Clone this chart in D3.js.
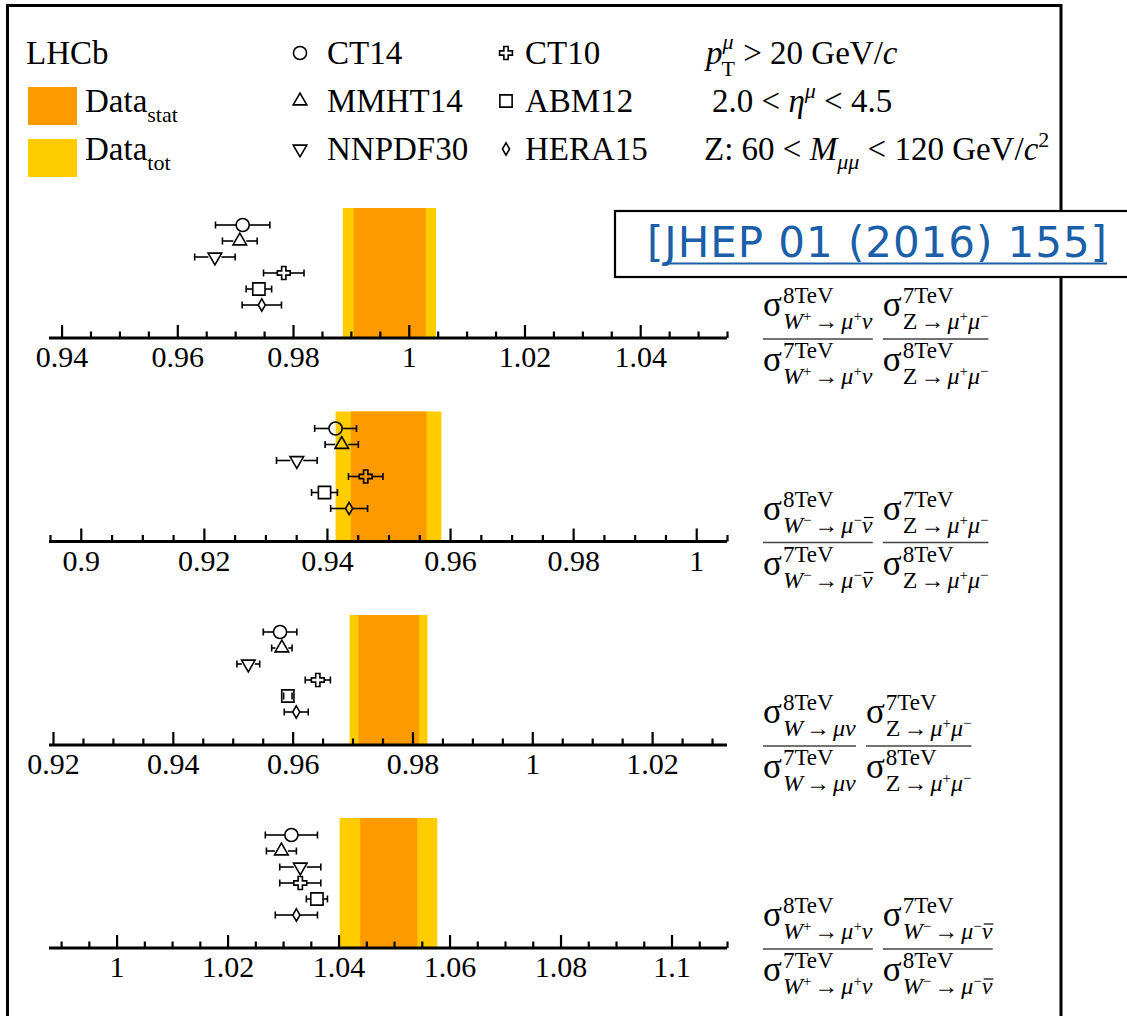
<!DOCTYPE html>
<html>
<head>
<meta charset="utf-8">
<script src="https://cdn.jsdelivr.net/npm/d3@7"></script>
<style>
body { margin: 0; background: #fff; }
text { font-family: "Liberation Serif", "Times New Roman", serif; fill: #000; }
</style>
</head>
<body>
<script>
// LHCb: ratios of W and Z cross-sections at 8 TeV and 7 TeV, data vs PDF sets

var pdfSets = ["CT14", "MMHT14", "NNPDF30", "CT10", "ABM12", "HERA15"];
var pdfSymbols = ["circle", "triangle", "invtriangle", "cross", "square", "diamond"];

// one value per panel, top to bottom
var dataStat = [[0.9905, 1.0029], [0.9439, 0.9562], [0.9710, 0.9811], [1.0439, 1.0542]];
var dataTot  = [[0.9886, 1.0047], [0.9414, 0.9586], [0.9695, 0.9825], [1.0402, 1.0578]];

var ct14Val    = [0.9713, 0.9414, 0.9579, 1.0315];
var ct14Err    = [0.0047, 0.0034, 0.0028, 0.0047];
var mmht14Val  = [0.9708, 0.9424, 0.9582, 1.0297];
var mmht14Err  = [0.0030, 0.0027, 0.0017, 0.0027];
var nnpdf30Val = [0.9665, 0.9351, 0.9526, 1.0331];
var nnpdf30Err = [0.0035, 0.0033, 0.0019, 0.0037];
var ct10Val    = [0.9784, 0.9463, 0.9642, 1.0331];
var ct10Err    = [0.0035, 0.0028, 0.0021, 0.0037];
var abm12Val   = [0.9741, 0.9396, 0.9592, 1.0361];
var abm12Err   = [0.0022, 0.0021, 0.0007, 0.0019];
var hera15Val  = [0.9746, 0.9436, 0.9606, 1.0324];
var hera15Err  = [0.0034, 0.0030, 0.0020, 0.0038];

var axisDomains = [[0.938, 1.055], [0.895, 1.005], [0.9195, 1.0325], [0.988, 1.11]];
var tickLabels = [
  [0.94, 0.96, 0.98, 1, 1.02, 1.04],
  [0.9, 0.92, 0.94, 0.96, 0.98, 1],
  [0.92, 0.94, 0.96, 0.98, 1, 1.02],
  [1, 1.02, 1.04, 1.06, 1.08, 1.1]
];

// subscripts of the sigma terms: [text, style]  i=italic s=superscript o=italic+overline
var subWplus  = [["W", "i"], ["+", "s"], ["\u2192", ""], ["\u03bc", "i"], ["+", "s"], ["\u03bd", "i"]];
var subWminus = [["W", "i"], ["\u2212", "s"], ["\u2192", ""], ["\u03bc", "i"], ["\u2212", "s"], ["\u03bd", "o"]];
var subW      = [["W", "i"], ["\u2192", ""], ["\u03bc", "i"], ["\u03bd", "i"]];
var subZ      = [["Z", ""], ["\u2192", ""], ["\u03bc", "i"], ["+", "s"], ["\u03bc", "i"], ["\u2212", "s"]];
var ratioLabels = [
  [subWplus, subZ],
  [subWminus, subZ],
  [subW, subZ],
  [subWplus, subWminus]
];

var vals = [ct14Val, mmht14Val, nnpdf30Val, ct10Val, abm12Val, hera15Val];
var errs = [ct14Err, mmht14Err, nnpdf30Err, ct10Err, abm12Err, hera15Err];

var W = 1127, H = 1016;
var svg = d3.select("body").append("svg").attr("width", W).attr("height", H);

var orange = "#fd9a00", yellow = "#ffcc00";

// frame
svg.append("rect").attr("x", 7.5).attr("y", 5.5).attr("width", 1053.5).attr("height", 1100)
  .attr("fill", "none").attr("stroke", "#000").attr("stroke-width", 3);

function symbolPath(type) {
  if (type == "circle") return d3.symbol(d3.symbolCircle, 135)();
  if (type == "triangle" || type == "invtriangle") return d3.symbol(d3.symbolTriangle, 80)();
  if (type == "cross") return d3.symbol(d3.symbolCross, 92)();
  if (type == "square") return d3.symbol(d3.symbolSquare, 150)();
  return d3.symbol(d3.symbolDiamond, 44)();
}
var halfWidth = {circle: 6.5, triangle: 6.5, invtriangle: 6.5, cross: 6.5, square: 6.2, diamond: 3.6};

function drawMarker(g, type, cx, cy) {
  g.append("path").attr("d", symbolPath(type))
    .attr("transform", "translate(" + cx + "," + cy + ")" + (type == "invtriangle" ? " rotate(180)" : ""))
    .attr("fill", "none").attr("stroke", "#000").attr("stroke-width", 1.6);
}

// ---- legend ----
var leg = svg.append("g");
var rowY = [64, 112, 160];
var legFont = "33px";
leg.append("text").attr("x", 26).attr("y", rowY[0]).style("font-size", legFont).text("LHCb");
[[orange, "stat", 87], [yellow, "tot", 139]].forEach(function(d, i) {
  leg.append("rect").attr("x", 28).attr("y", d[2]).attr("width", 49).attr("height", 38).attr("fill", d[0]);
  var t = leg.append("text").attr("x", 85).attr("y", rowY[i + 1]).style("font-size", legFont).text("Data");
  t.append("tspan").attr("dy", 10).style("font-size", "22px").text(d[1]);
});
pdfSets.forEach(function(name, i) {
  var col = Math.floor(i / 3), row = i % 3;
  var mx = col == 0 ? 300 : 506, tx = col == 0 ? 327 : 525;
  drawMarker(leg, pdfSymbols[i], mx, rowY[row] - 11);
  leg.append("text").attr("x", tx).attr("y", rowY[row]).style("font-size", legFont).text(name);
});
// kinematic cuts
var cutX = 706, cutFont = "33px", cutSmall = "22px";
var c1 = leg.append("text").attr("x", cutX).attr("y", rowY[0]).style("font-size", cutFont);
c1.append("tspan").style("font-style", "italic").text("p");
c1.append("tspan").attr("dy", -15).style("font-size", cutSmall).style("font-style", "italic").text("\u03bc");
c1.append("tspan").attr("dx", -12).attr("dy", 27).style("font-size", cutSmall).text("T");
c1.append("tspan").attr("dy", -12).text(" > 20 GeV/");
c1.append("tspan").style("font-style", "italic").text("c");
var c2 = leg.append("text").attr("x", cutX + 6).attr("y", rowY[1]).style("font-size", cutFont);
c2.append("tspan").text("2.0 < ");
c2.append("tspan").style("font-style", "italic").text("\u03b7");
c2.append("tspan").attr("dy", -14).style("font-size", cutSmall).style("font-style", "italic").text("\u03bc");
c2.append("tspan").attr("dy", 14).text(" < 4.5");
var c3 = leg.append("text").attr("x", cutX - 2).attr("y", rowY[2]).style("font-size", cutFont);
c3.append("tspan").text("Z: 60 < ");
c3.append("tspan").style("font-style", "italic").text("M");
c3.append("tspan").attr("dy", 9).style("font-size", cutSmall).style("font-style", "italic").text("\u03bc\u03bc");
c3.append("tspan").attr("dy", -9).text(" < 120 GeV/");
c3.append("tspan").style("font-style", "italic").text("c");
c3.append("tspan").attr("dy", -13).style("font-size", cutSmall).text("2");

// ---- panels ----
var axisY = [338, 541.5, 745, 948];
var fmt = function(d) { return String(+d.toFixed(3)); };

axisY.forEach(function(A, p) {
  var x = d3.scaleLinear().domain(axisDomains[p]).range([50, 727]);
  var g = svg.append("g");

  g.append("rect").attr("x", x(dataTot[p][0])).attr("y", A - 130)
    .attr("width", x(dataTot[p][1]) - x(dataTot[p][0])).attr("height", 130).attr("fill", yellow);
  g.append("rect").attr("x", x(dataStat[p][0])).attr("y", A - 130)
    .attr("width", x(dataStat[p][1]) - x(dataStat[p][0])).attr("height", 130).attr("fill", orange);

  var minor = [];
  for (var v = Math.ceil(axisDomains[p][0] / 0.005 - 1e-6); v * 0.005 <= axisDomains[p][1] + 1e-9; v++) {
    if (v % 4 != 0) minor.push(v * 0.005);
  }
  var ax = g.append("g").attr("transform", "translate(0," + A + ")");
  ax.call(d3.axisBottom(x).tickValues(tickLabels[p]).tickSizeInner(-13).tickSizeOuter(0)
    .tickPadding(8).tickFormat(fmt));
  ax.select(".domain").remove();
  ax.attr("font-family", null).attr("font-size", null);
  ax.selectAll(".tick line").attr("stroke-width", 2.2);
  ax.selectAll(".tick text").style("font-size", "30px");
  var axm = g.append("g").attr("transform", "translate(0," + A + ")");
  axm.call(d3.axisBottom(x).tickValues(minor).tickSizeInner(-6.5).tickSizeOuter(0).tickFormat(""));
  axm.select(".domain").remove();
  axm.selectAll(".tick line").attr("stroke-width", 2.2);
  g.append("line").attr("x1", 49).attr("x2", 727).attr("y1", A).attr("y2", A)
    .attr("stroke", "#000").attr("stroke-width", 3);

  pdfSets.forEach(function(name, i) {
    var cx = x(vals[i][p]), cy = A - 113 + i * 16;
    var lo = x(vals[i][p] - errs[i][p]), hi = x(vals[i][p] + errs[i][p]);
    var hw = halfWidth[pdfSymbols[i]];
    [[lo, cx - hw], [cx + hw, hi]].forEach(function(s) {
      if (s[1] > s[0]) g.append("line").attr("x1", s[0]).attr("x2", s[1]).attr("y1", cy).attr("y2", cy)
        .attr("stroke", "#000").attr("stroke-width", 1.6);
    });
    [lo, hi].forEach(function(e) {
      g.append("line").attr("x1", e).attr("x2", e).attr("y1", cy - 3.5).attr("y2", cy + 3.5)
        .attr("stroke", "#000").attr("stroke-width", 1.6);
    });
    drawMarker(g, pdfSymbols[i], cx, cy);
  });

  // ratio label
  var lx = 763;
  ratioLabels[p].forEach(function(sub, k) {
    var numE = k == 0 ? "8TeV" : "7TeV";
    var denE = k == 0 ? "7TeV" : "8TeV";
    var w = Math.max(sigmaTerm(lx, A - 22, numE, sub), sigmaTerm(lx, A + 33, denE, sub));
    svg.append("line").attr("x1", lx).attr("x2", lx + w).attr("y1", A + 1).attr("y2", A + 1)
      .attr("stroke", "#444").attr("stroke-width", 1.3);
    lx += w + 10;
  });
});

function sigmaTerm(x0, yb, energy, sub) {
  var s = svg.append("text").attr("x", x0).attr("y", yb).style("font-size", "35px").text("\u03c3");
  var sw = s.node().getComputedTextLength();
  var e = svg.append("text").attr("x", x0 + sw + 1).attr("y", yb - 13).style("font-size", "23px").text(energy);
  var t = svg.append("text").attr("x", x0 + sw + 1).attr("y", yb + 13).style("font-size", "24px");
  var shift = 0, overlined = [], idx = 0;
  sub.forEach(function(part) {
    var ts = t.append("tspan");
    var target = part[1] == "s" ? -8 : 0;
    ts.attr("dy", target - shift);
    shift = target;
    if (part[1] == "s") ts.style("font-size", "15px");
    if (part[1] == "i" || part[1] == "o") ts.style("font-style", "italic");
    if (part[1] == "o") overlined.push(idx);
    if (part[0] == "\u2192") ts.attr("dx", 3);
    if (idx > 0 && sub[idx - 1][0] == "\u2192") ts.attr("dx", 3);
    ts.text(part[0]);
    idx++;
  });
  // overline bars for antiparticles
  overlined.forEach(function(k) {
    var charIndex = 0;
    for (var j = 0; j < k; j++) charIndex += sub[j][0].length;
    var ext = t.node().getExtentOfChar(charIndex);
    svg.append("line").attr("x1", ext.x + 2).attr("x2", ext.x + ext.width + 1)
      .attr("y1", yb + 13 - 15).attr("y2", yb + 13 - 15)
      .attr("stroke", "#000").attr("stroke-width", 1.2);
  });
  return sw + 1 + Math.max(e.node().getComputedTextLength(), t.node().getBBox().width);
}

// reference box
var box = svg.append("g");
box.append("rect").attr("x", 615).attr("y", 211).attr("width", 600).attr("height", 66)
  .attr("fill", "#fff").attr("stroke", "#000").attr("stroke-width", 2.2);
var ref = box.append("text").attr("x", 647).attr("y", 257)
  .attr("textLength", 460).attr("lengthAdjust", "spacing")
  .style("font-family", "'DejaVu Sans', Verdana, sans-serif").style("font-size", "42px")
  .style("fill", "#1a5fa8")
  .text("[JHEP 01 (2016) 155]");
var first = ref.node().getExtentOfChar(1), last = ref.node().getExtentOfChar(19);
box.append("line").attr("x1", first.x).attr("x2", last.x + last.width)
  .attr("y1", 263.5).attr("y2", 263.5).attr("stroke", "#1a5fa8").attr("stroke-width", 2);
</script>
</body>
</html>
